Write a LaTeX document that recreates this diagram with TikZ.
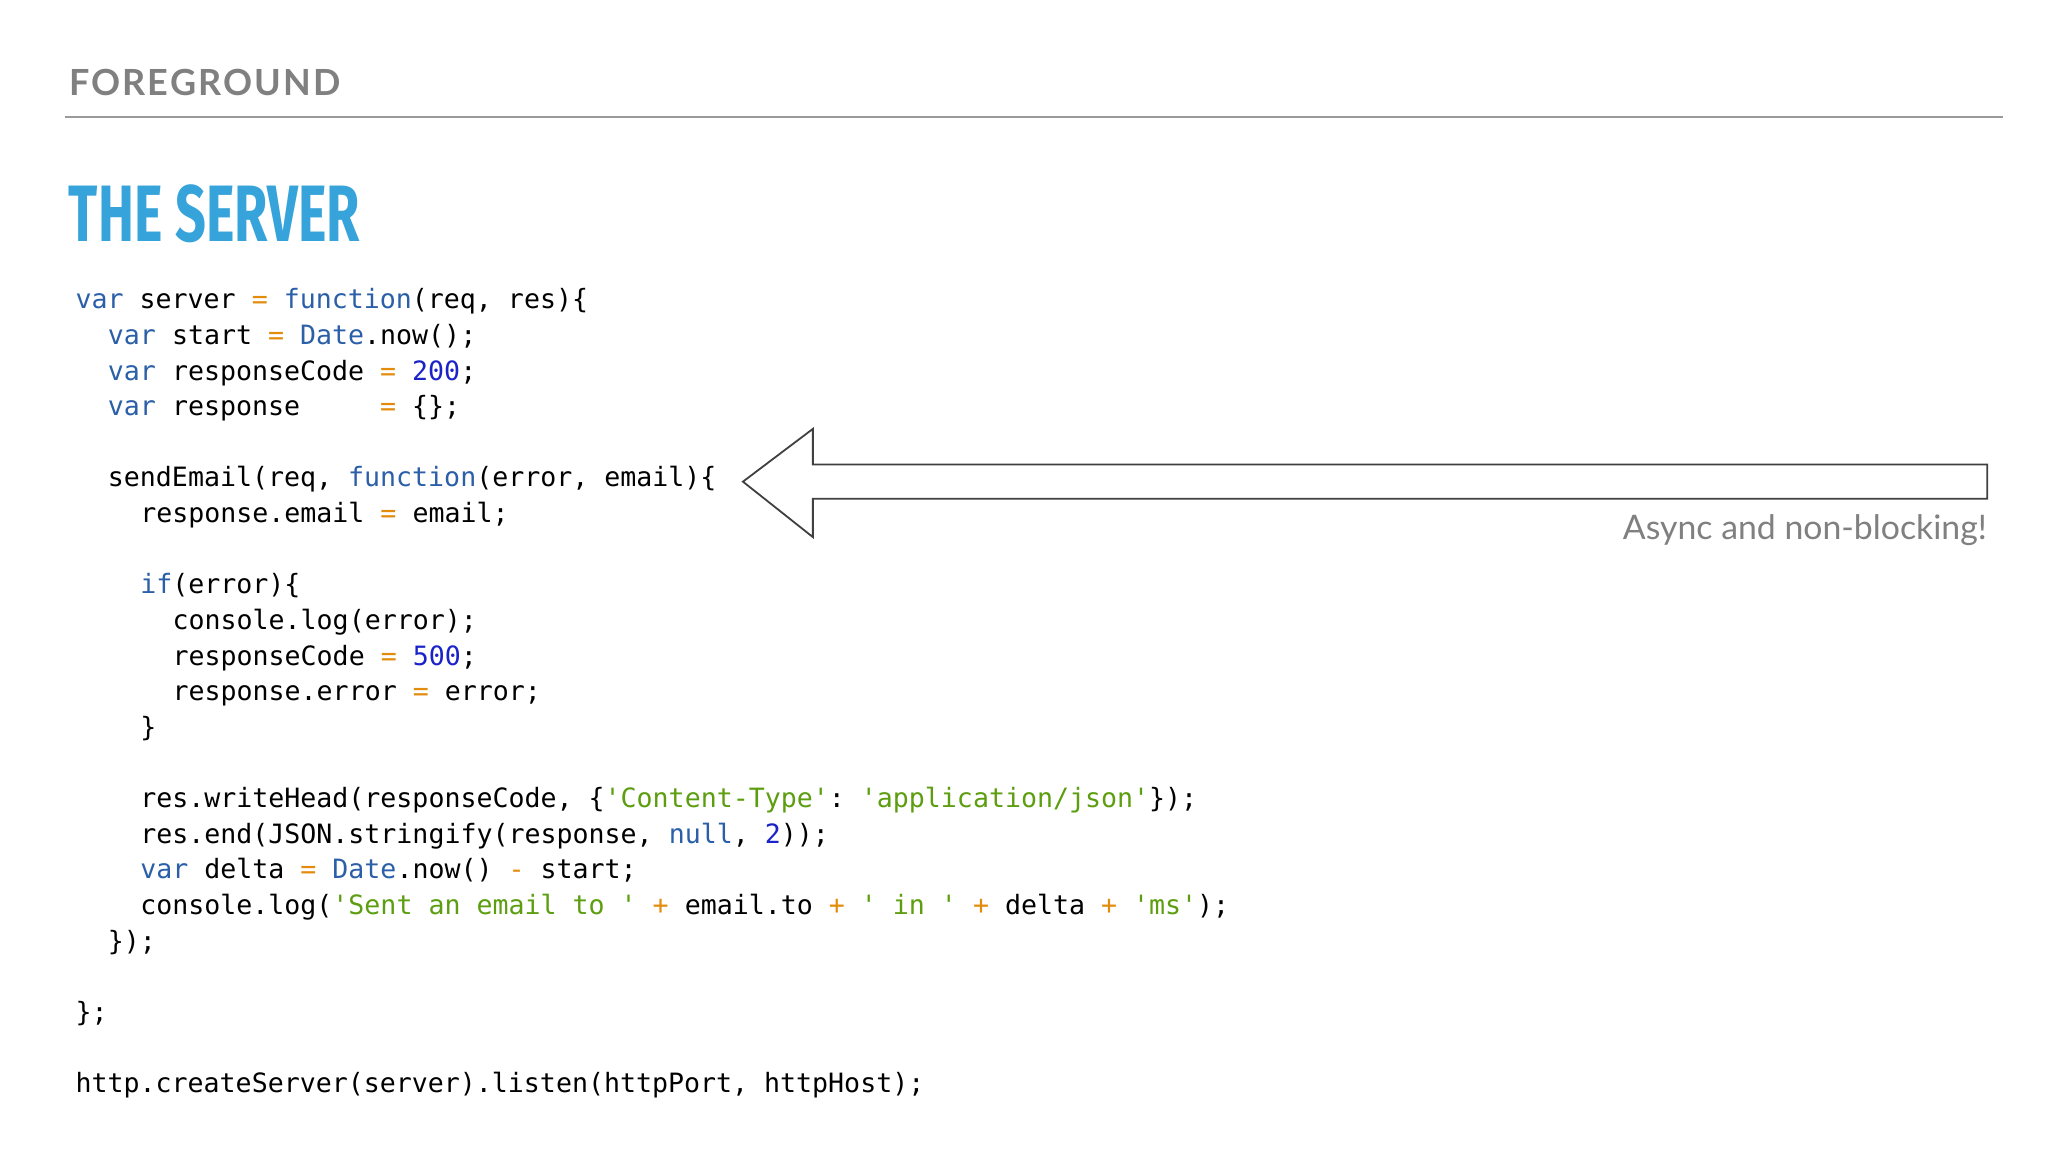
\documentclass[tikz,border=0pt]{standalone}
\usepackage{fontspec}
\setmainfont{Lato}
\setmonofont{DejaVu Sans Mono}
\newfontfamily\titlefont{Fira Sans}
\definecolor{kwc}{HTML}{2B5FA8}
\definecolor{numc}{HTML}{1A22C8}
\definecolor{strc}{HTML}{5C9E10}
\definecolor{opc}{HTML}{E38B0B}
\definecolor{grayt}{HTML}{808080}
\definecolor{titlec}{HTML}{36A3DA}
\newcommand\kw[1]{\textcolor{kwc}{#1}}
\newcommand\nm[1]{\textcolor{numc}{#1}}
\newcommand\st[1]{\textcolor{strc}{#1}}
\newcommand\op[1]{\textcolor{opc}{#1}}
\begin{document}
\begin{tikzpicture}[x=0.6598pt,y=-0.6598pt,
  code/.style={anchor=base west,inner sep=0pt,font=\fontsize{13.3pt}{16pt}\ttfamily,text=black}]
\useasboundingbox[fill=white] (0,0) rectangle (1552,873);
\node[anchor=base west,inner sep=0pt,text=grayt,font=\fontsize{18pt}{20pt}\selectfont\bfseries] (fg) at (52,72) {F\kern1pt O\kern1pt R\kern1pt E\kern1pt G\kern1pt R\kern1pt O\kern1pt U\kern1pt N\kern1pt D};
\coordinate (l1) at (49,89); \coordinate (l2) at (1518,89);
\draw[grayt!80,line width=1pt] (l1) -- (l2);
\node[anchor=base west,inner sep=0pt,text=titlec,font=\fontsize{40pt}{44pt}\titlefont\bfseries,xscale=0.675] (title) at (52,183) {THE SERVER};
\def\cw{12.25}
\foreach \i/\ind/\txt in {
 0/0/{\kw{var} server \op{=} \kw{function}(req, res)\{},
 1/2/{\kw{var} start \op{=} \kw{Date}.now();},
 2/2/{\kw{var} responseCode \op{=} \nm{200};},
 3/2/{\kw{var} response\phantom{xxxx} \op{=} \{\};},
 5/2/{sendEmail(req, \kw{function}(error, email)\{},
 6/4/{response.email \op{=} email;},
 8/4/{\kw{if}(error)\{},
 9/6/{console.log(error);},
 10/6/{responseCode \op{=} \nm{500};},
 11/6/{response.error \op{=} error;},
 12/4/{\}},
 14/4/{res.writeHead(responseCode, \{\st{'Content-Type'}: \st{'application/json'}\});},
 15/4/{res.end(JSON.stringify(response, \kw{null}, \nm{2}));},
 16/4/{\kw{var} delta \op{=} \kw{Date}.now() \op{-} start;},
 17/4/{console.log(\st{'Sent an email to '} \op{+} email.to \op{+} \st{' in '} \op{+} delta \op{+} \st{'ms'});},
 18/2/{\});},
 20/0/{\};},
 22/0/{http.createServer(server).listen(httpPort, httpHost);}}
{ \node[code] (c\i) at ({57+\cw*\ind},{234+27*\i}) {\txt}; }
\draw[draw=black!75,line width=0.9pt,fill=white] (563,365) -- (616,325) -- (616,352) -- (1506,352) -- (1506,378) -- (616,378) -- (616,407) -- cycle;
\node[anchor=base east,inner sep=0pt,text=grayt,font=\fontsize{16.9pt}{18pt}\selectfont] (async) at (1506,409) {Async and non-blocking!};
\end{tikzpicture}
\end{document}
